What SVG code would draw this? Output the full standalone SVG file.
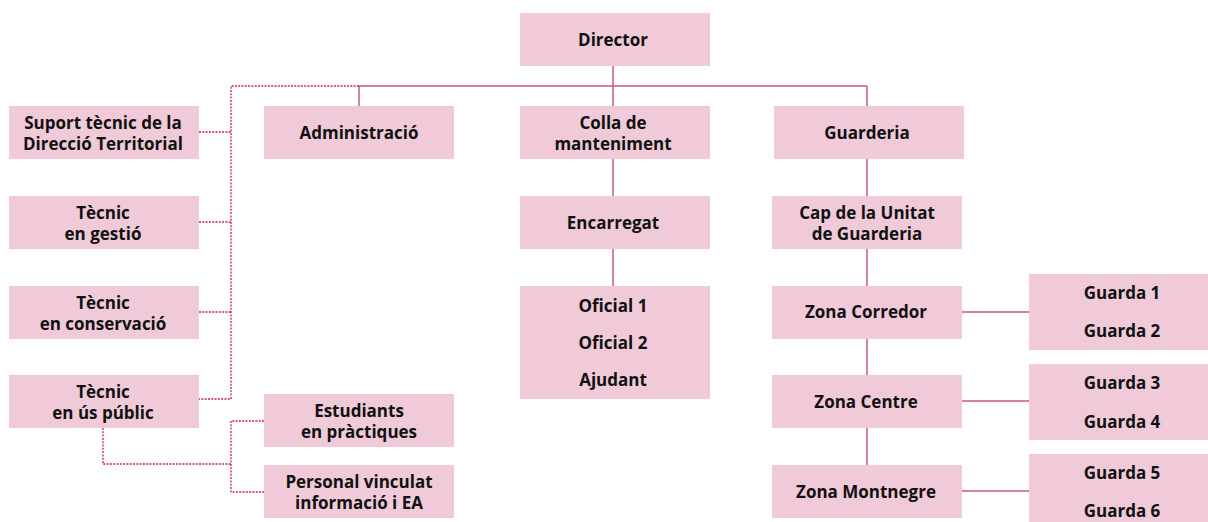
<svg xmlns="http://www.w3.org/2000/svg" width="1208" height="522" viewBox="0 0 1208 522">
<style>
.box{fill:#f0cad8}
.t{font-family:"Open Sans","Liberation Sans",sans-serif;font-weight:bold;font-size:17px;fill:#111;text-anchor:middle}
.solid{fill:none;stroke:#c9587f;stroke-width:1.5}
.dot{fill:none;stroke:#c8204f;stroke-width:1.3;stroke-dasharray:2 1.3}
</style>
<rect width="1208" height="522" fill="#fff"/>
<g id="connectors">
<path class="solid" d="M613 66V86M359 86H867M359 86V106M613 86V106M867 86V106"/>
<path class="solid" d="M613 159V196M613 249V286"/>
<path class="solid" d="M867 159V196M867 249V286M867 339V375M867 428V465"/>
<path class="solid" d="M962 312H1029M962 401H1029M962 491H1029"/>
<path class="dot" d="M359 86H231V399H199M199 132H231M199 222H231M199 312H231"/>
<path class="dot" d="M103 428V464H231M264 421H231V492H264"/>
</g>
<g id="director"><rect class="box" x="520" y="13" width="190" height="53"/><text class="t" x="613" y="46">Director</text></g>
<g id="suport"><rect class="box" x="9" y="106" width="190" height="53"/><text class="t" x="103" y="128.5">Suport tècnic de la</text><text class="t" x="103" y="149.5">Direcció Territorial</text></g>
<g id="gestio"><rect class="box" x="9" y="196" width="190" height="53"/><text class="t" x="103" y="218.5">Tècnic</text><text class="t" x="103" y="239.5">en gestió</text></g>
<g id="conservacio"><rect class="box" x="9" y="286" width="190" height="53"/><text class="t" x="103" y="308.5">Tècnic</text><text class="t" x="103" y="329.5">en conservació</text></g>
<g id="uspublic"><rect class="box" x="9" y="375" width="190" height="53"/><text class="t" x="103" y="397.5">Tècnic</text><text class="t" x="103" y="418.5">en ús públic</text></g>
<g id="estudiants"><rect class="box" x="264" y="394" width="190" height="53"/><text class="t" x="359" y="416.5">Estudiants</text><text class="t" x="359" y="437.5">en pràctiques</text></g>
<g id="personal"><rect class="box" x="264" y="465" width="190" height="53"/><text class="t" x="359" y="487.5">Personal vinculat</text><text class="t" x="359" y="508.5">informació i EA</text></g>
<g id="administracio"><rect class="box" x="264" y="106" width="190" height="53"/><text class="t" x="359" y="139">Administració</text></g>
<g id="colla"><rect class="box" x="520" y="106" width="190" height="53"/><text class="t" x="613" y="128.5">Colla de</text><text class="t" x="613" y="149.5">manteniment</text></g>
<g id="encarregat"><rect class="box" x="520" y="196" width="190" height="53"/><text class="t" x="613" y="229">Encarregat</text></g>
<g id="oficials"><rect class="box" x="520" y="286" width="190" height="113"/><text class="t" x="613" y="312">Oficial 1</text><text class="t" x="613" y="349">Oficial 2</text><text class="t" x="613" y="386">Ajudant</text></g>
<g id="guarderia"><rect class="box" x="774" y="106" width="190" height="53"/><text class="t" x="867" y="139">Guarderia</text></g>
<g id="cap"><rect class="box" x="772" y="196" width="190" height="53"/><text class="t" x="867" y="218.5">Cap de la Unitat</text><text class="t" x="867" y="239.5">de Guarderia</text></g>
<g id="corredor"><rect class="box" x="772" y="286" width="190" height="53"/><text class="t" x="866" y="318">Zona Corredor</text></g>
<g id="centre"><rect class="box" x="772" y="375" width="190" height="53"/><text class="t" x="866" y="408">Zona Centre</text></g>
<g id="montnegre"><rect class="box" x="772" y="465" width="190" height="53"/><text class="t" x="866" y="498">Zona Montnegre</text></g>
<g id="guardes12"><rect class="box" x="1029" y="274" width="179" height="76"/><text class="t" x="1122" y="299">Guarda 1</text><text class="t" x="1122" y="337">Guarda 2</text></g>
<g id="guardes34"><rect class="box" x="1029" y="364" width="179" height="76"/><text class="t" x="1122" y="389">Guarda 3</text><text class="t" x="1122" y="428">Guarda 4</text></g>
<g id="guardes56"><rect class="box" x="1029" y="454" width="179" height="68"/><text class="t" x="1122" y="479">Guarda 5</text><text class="t" x="1122" y="517">Guarda 6</text></g>
</svg>
